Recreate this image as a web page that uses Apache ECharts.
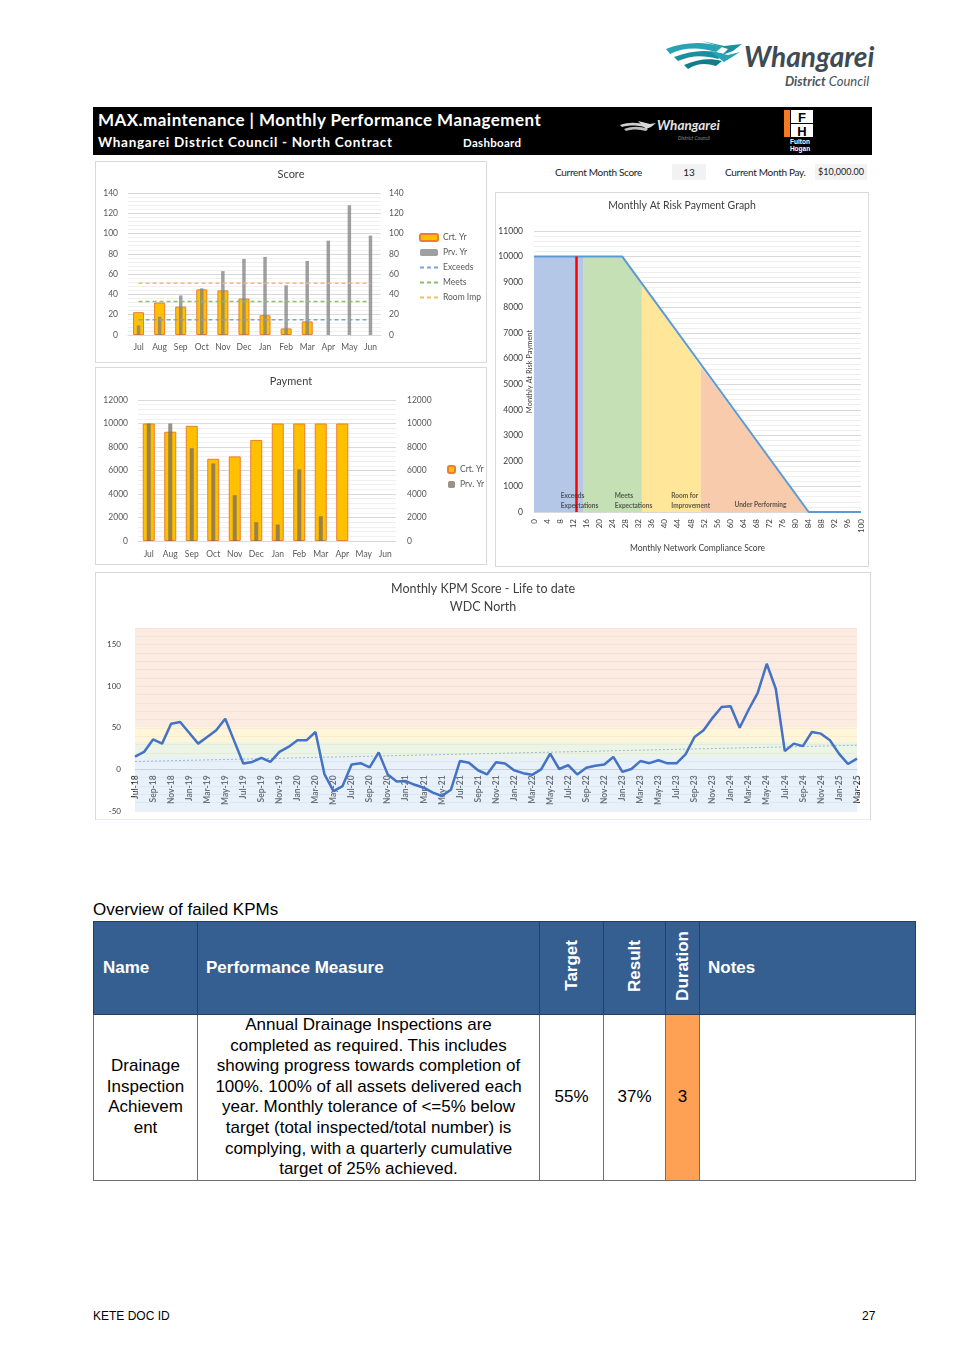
<!DOCTYPE html>
<html>
<head>
<meta charset="utf-8">
<script src="https://cdn.jsdelivr.net/npm/echarts@6/dist/echarts.min.js"></script>
<style>
  html,body{margin:0;padding:0;background:#fff;}
  body{width:967px;height:1369px;position:relative;overflow:hidden;font-family:"Liberation Sans",Arial,sans-serif;}
  .abs{position:absolute;}
  .panel{position:absolute;box-sizing:border-box;border:1px solid #d9d9d9;background:#fff;}
  .hdr{position:absolute;left:93px;top:107px;width:779px;height:48px;background:#000;}
  .hdr .t1{position:absolute;left:5px;top:2px;color:#fff;font:bold 17px Lato,"Liberation Sans",sans-serif;letter-spacing:0.45px;}
  .hdr .t2{position:absolute;left:5px;top:27px;color:#fff;font:bold 13.5px Lato,"Liberation Sans",sans-serif;letter-spacing:0.7px;}
  .hdr .t3{position:absolute;left:370px;top:29px;color:#fff;font:bold 11.5px Lato,"Liberation Sans",sans-serif;letter-spacing:0.3px;}
  .cm{position:absolute;font:10px Lato,"Liberation Sans",sans-serif;color:#222;letter-spacing:-0.3px;}
  .cmbox{position:absolute;background:#f2f2f2;font:9px Lato,"Liberation Sans",sans-serif;color:#222;text-align:center;}
  table.kpi{position:absolute;left:93px;top:921px;width:822px;border-collapse:collapse;table-layout:fixed;font-family:"Liberation Sans",Arial,sans-serif;}
  table.kpi td{border:1.5px solid #6f6f6f;padding:0;}
  table.kpi tr.h td{background:#365F91;color:#fff;font-weight:bold;font-size:17px;height:92px;vertical-align:middle;border-color:#2b3f5c;}
  table.kpi tr.b td{font-size:17px;line-height:20.6px;height:164px;text-align:center;vertical-align:middle;color:#000;}
  .rot{writing-mode:vertical-rl;transform:rotate(180deg);display:inline-block;}
</style>
</head>
<body>
<script>
// ---------------- DATA ----------------
const months = ['Jul','Aug','Sep','Oct','Nov','Dec','Jan','Feb','Mar','Apr','May','Jun'];
const scoreCrt = [22.5, 32, 28, 45, 44, 36, 19.5, 6.5, 13.4, null, null, null];
const scorePrv = [9.5, 18, 39, 46, 63, 75, 77, 49, 73, 93, 128, 98];
const scoreExceeds = [15,15,15,15,15,15,15,15,15,15,15,15];
const scoreMeets = [33,33,33,33,33,33,33,33,33,33,33,33];
const scoreRoomImp = [51,51,51,51,51,51,51,51,51,51,51,51];
const payCrt = [10000, 9300, 9800, 7000, 7200, 8600, 10000, 10000, 10000, 10000, null, null];
const payPrv = [10000, 10000, 7900, 6600, 3900, 1600, 1400, 6100, 2100, null, null, null];

// At-risk payment graph: [score, payment]
const riskLine = [[0,10000],[27,10000],[84,0],[100,0]];
const riskBlue = [[0,10000],[15,10000]];
const riskGreen = [[15,10000],[27,10000],[33,8900]];
const riskYellow = [[33,8900],[51,5700]];
const riskSalmon = [[51,5700],[84,0]];
const currentScoreLine = [[13,0],[13,10000]];
const riskLabels = [
  {name:'Exceeds\nExpectations', value:[8.2,440]},
  {name:'Meets\nExpectations', value:[24.7,440]},
  {name:'Room for\nImprovement', value:[42,440]},
  {name:'Under Performing', value:[61.3,283]}
];

const kpmMonths = ['Jul-18','Aug-18','Sep-18','Oct-18','Nov-18','Dec-18',
 'Jan-19','Feb-19','Mar-19','Apr-19','May-19','Jun-19','Jul-19','Aug-19','Sep-19','Oct-19','Nov-19','Dec-19',
 'Jan-20','Feb-20','Mar-20','Apr-20','May-20','Jun-20','Jul-20','Aug-20','Sep-20','Oct-20','Nov-20','Dec-20',
 'Jan-21','Feb-21','Mar-21','Apr-21','May-21','Jun-21','Jul-21','Aug-21','Sep-21','Oct-21','Nov-21','Dec-21',
 'Jan-22','Feb-22','Mar-22','Apr-22','May-22','Jun-22','Jul-22','Aug-22','Sep-22','Oct-22','Nov-22','Dec-22',
 'Jan-23','Feb-23','Mar-23','Apr-23','May-23','Jun-23','Jul-23','Aug-23','Sep-23','Oct-23','Nov-23','Dec-23',
 'Jan-24','Feb-24','Mar-24','Apr-24','May-24','Jun-24','Jul-24','Aug-24','Sep-24','Oct-24','Nov-24','Dec-24',
 'Jan-25','Feb-25','Mar-25'];
const kpmScore = [15.5,21,36,31,55,57,
 44,31,39,47,61,34,7,9,14,9,21,27,
 35,35,45,-6,-26,-20,6,7.5,2.5,20.5,-6,-14.5,
 -14,-18.5,-22,-28,-32,-24.5,10,8,-1,-6,8.5,7,
 -1,-4.5,-6.5,0,19,0.5,5,-6,2,4.5,6,15,
 -3,0.5,10,7.5,11,7.3,7.3,18,39,47,62,75,
 76,50,72,92,127,97,22,31,28,45,43,35,
 19,6.5,13];
const kpmTrendStart = 9.5;
const kpmTrendEnd = 29;
const kpmBands = [[-50,15],[15,33],[33,51],[51,170]];
const kpmYTicks = [-50,0,50,100,150];
</script>

<!-- top logo -->
<svg class="abs" style="left:662px;top:36px" width="225" height="58" viewBox="0 0 225 58">
  <path d="M4,13 C22,6 42,5 60,11 L54,16 C38,11 22,11 8,18 Z" fill="#27a3b2"/>
  <path d="M12,21 C30,14 46,13 62,18 L56,23 C42,19 29,19 16,25 Z" fill="#1b8f9e"/>
  <path d="M22,29 C36,23 48,22 60,25 L54,30 C44,27 35,27 26,33 Z" fill="#127c8a"/>
  <path d="M40,5 L62,10 L80,8 L71,15 L60,19 L66,13 Z" fill="#1b8f9e"/>
  <path d="M48,15 L66,19 L78,16 L62,26 Z" fill="#27a3b2"/>
  <text x="82" y="31" font-family="Lato,'Liberation Sans',sans-serif" font-weight="bold" font-style="italic" font-size="28" fill="#3e4a54">Whangarei</text>
  <text x="123" y="50" font-family="Lato,'Liberation Sans',sans-serif" font-style="italic" font-size="13" fill="#4a545c"><tspan font-weight="bold">District</tspan> Council</text>
</svg>

<!-- header bar -->
<div class="hdr">
  <div class="t1">MAX.maintenance | Monthly Performance Management</div>
  <div class="t2">Whangarei District Council - North Contract</div>
  <div class="t3">Dashboard</div>
  <svg class="abs" style="left:525px;top:8px" width="120" height="30" viewBox="0 0 120 30">
    <path d="M2,10 C10,7 20,7 28,10 L26,12 C19,10 11,10 4,12 Z" fill="#cfcfcf"/>
    <path d="M6,14 C14,11 22,11 30,14 L28,16 C21,14 14,14 8,16 Z" fill="#bdbdbd"/>
    <path d="M20,6 L32,9 L38,8 L33,12 L28,14 Z" fill="#d8d8d8"/>
    <text x="39" y="15" font-family="Lato,'Liberation Sans',sans-serif" font-weight="bold" font-style="italic" font-size="13.5" fill="#e6e6e6">Whangarei</text>
    <text x="60" y="25" font-family="Lato,'Liberation Sans',sans-serif" font-style="italic" font-size="5" fill="#8a8a8a">District Council</text>
  </svg>
  <svg class="abs" style="left:689px;top:2px" width="36" height="44" viewBox="0 0 36 44">
    <rect x="2" y="1" width="6" height="27" fill="#f47b20"/>
    <rect x="9" y="1" width="22" height="13" fill="#fff"/>
    <rect x="9" y="15" width="22" height="13" fill="#fff"/>
    <text x="20" y="12.5" text-anchor="middle" font-family="'Liberation Sans',sans-serif" font-weight="bold" font-size="13" fill="#000">F</text>
    <text x="20" y="26.5" text-anchor="middle" font-family="'Liberation Sans',sans-serif" font-weight="bold" font-size="13" fill="#000">H</text>
    <text x="18" y="35" text-anchor="middle" font-family="'Liberation Sans',sans-serif" font-weight="bold" font-size="6.5" fill="#fff">Fulton</text>
    <text x="18" y="42" text-anchor="middle" font-family="'Liberation Sans',sans-serif" font-weight="bold" font-size="6.5" fill="#fff">Hogan</text>
  </svg>
</div>

<!-- panels -->
<div id="score" class="panel" style="left:95px;top:161px;width:392px;height:202px;"></div>
<div id="pay" class="panel" style="left:95px;top:367px;width:392px;height:198px;"></div>

<div class="cm" style="left:555px;top:166px;">Current Month Score</div>
<div class="cmbox" style="left:672px;top:164px;width:34px;height:16px;line-height:16px;font-size:10px;">13</div>
<div class="cm" style="left:725px;top:166px;">Current Month Pay.</div>
<div class="cmbox" style="left:815px;top:164px;width:52px;height:16px;line-height:16px;">$10,000.00</div>
<div id="risk" class="panel" style="left:495px;top:192px;width:374px;height:375px;"></div>

<div id="kpm" class="panel" style="left:95px;top:572px;width:776px;height:248px;border-bottom-color:#f3edc9;"></div>

<!-- table -->
<div class="abs" style="left:93px;top:900px;font-size:17px;color:#000;">Overview of failed KPMs</div>
<table class="kpi">
  <colgroup><col style="width:104px"><col style="width:342px"><col style="width:64px"><col style="width:62px"><col style="width:34px"><col style="width:216px"></colgroup>
  <tr class="h">
    <td style="padding-left:9px;">Name</td>
    <td style="padding-left:8px;">Performance Measure</td>
    <td style="text-align:center;"><span class="rot">Target</span></td>
    <td style="text-align:center;"><span class="rot">Result</span></td>
    <td style="text-align:center;"><span class="rot">Duration</span></td>
    <td style="padding-left:8px;">Notes</td>
  </tr>
  <tr class="b">
    <td>Drainage<br>Inspection<br>Achievem<br>ent</td>
    <td>Annual Drainage Inspections are<br>completed as required. This includes<br>showing progress towards completion of<br>100%. 100% of all assets delivered each<br>year. Monthly tolerance of &lt;=5% below<br>target (total inspected/total number) is<br>complying, with a quarterly cumulative<br>target of 25% achieved.</td>
    <td>55%</td>
    <td>37%</td>
    <td style="background:#FFA155;">3</td>
    <td></td>
  </tr>
</table>

<div class="abs" style="left:93px;top:1309px;font-size:12px;color:#000;">KETE DOC ID</div>
<div class="abs" style="left:862px;top:1309px;font-size:12px;color:#000;">27</div>

<script>
const FONT = 'Lato';
const LBL = '#595959';
const plain = v => String(v);

// ---------- Score ----------
(function(){
  const c = echarts.init(document.getElementById('score'), null, {renderer:'canvas'});
  const yAx = (pos) => ({type:'value', position:pos, min:0, max:140, interval:20,
    axisLabel:{fontSize:8.5, color:LBL, fontFamily:FONT, margin:pos==='left'?10:8, formatter:plain},
    axisLine:{show:false}, axisTick:{show:false},
    splitLine:{show:pos==='left', lineStyle:{color:'#d9d9d9', width:1}},
    minorTick:{show:false}, minorSplitLine:{show:pos==='left', lineStyle:{color:'#f0f0f0'}}, splitNumber:7});
  const lineItem = (name) => ({name, itemStyle:{opacity:0, color:'rgba(0,0,0,0)', borderWidth:0}});
  c.setOption({
    animation:false,
    title:{text:'Score', left:'center', top:2, textStyle:{fontSize:11, fontWeight:'normal', color:'#404040', fontFamily:FONT}},
    grid:{left:32, right:105, top:31, bottom:27, outerBoundsMode:'none', containLabel:false},
    legend:{orient:'vertical', left:318, top:66, itemWidth:18, itemHeight:7, itemGap:6,
      textStyle:{fontSize:8.5, color:LBL, fontFamily:FONT},
      data:['Crt. Yr','Prv. Yr',lineItem('Exceeds'),lineItem('Meets'),lineItem('Room Imp')]},
    xAxis:[
      {type:'category', data:months, axisTick:{show:false}, axisLine:{lineStyle:{color:'#d9d9d9'}},
       axisLabel:{fontSize:8.5, color:LBL, fontFamily:FONT, margin:8, interval:0}},
      {type:'category', data:months, show:false}
    ],
    yAxis:[yAx('left'), yAx('right')],
    series:[
      {name:'Crt. Yr', type:'bar', data:scoreCrt, barWidth:11, xAxisIndex:0, yAxisIndex:0,
       itemStyle:{color:'#FFC000', borderColor:'#ED7D31', borderWidth:1}},
      {name:'Prv. Yr', type:'bar', data:scorePrv, barWidth:3.5, xAxisIndex:1, yAxisIndex:1,
       itemStyle:{color:'rgba(128,128,128,0.75)'}},
      {name:'Exceeds', type:'line', data:scoreExceeds, symbol:'none', xAxisIndex:0, yAxisIndex:0,
       lineStyle:{color:'#7ea3d9', width:1.5, type:[4,3]}, itemStyle:{color:'#7ea3d9'}},
      {name:'Meets', type:'line', data:scoreMeets, symbol:'none', xAxisIndex:0, yAxisIndex:0,
       lineStyle:{color:'#8cbf6c', width:1.5, type:[4,3]}, itemStyle:{color:'#8cbf6c'}},
      {name:'Room Imp', type:'line', data:scoreRoomImp, symbol:'none', xAxisIndex:0, yAxisIndex:0,
       lineStyle:{color:'#f0c060', width:1.5, type:[4,3]}, itemStyle:{color:'#f0c060'}}
    ]
  });
})();

// ---------- Payment ----------
(function(){
  const c = echarts.init(document.getElementById('pay'), null, {renderer:'canvas'});
  const yAx = (pos) => ({type:'value', position:pos, min:0, max:12000, interval:2000,
    axisLabel:{fontSize:8.5, color:LBL, fontFamily:FONT, margin:pos==='left'?10:11, formatter:plain},
    axisLine:{show:false}, axisTick:{show:false},
    splitLine:{show:pos==='left', lineStyle:{color:'#d9d9d9'}},
    minorTick:{show:false}, minorSplitLine:{show:pos==='left', lineStyle:{color:'#f0f0f0'}}, splitNumber:6});
  c.setOption({
    animation:false,
    title:{text:'Payment', left:'center', top:3, textStyle:{fontSize:11, fontWeight:'normal', color:'#404040', fontFamily:FONT}},
    grid:{left:42, right:90, top:32, bottom:23, outerBoundsMode:'none', containLabel:false},
    legend:{orient:'vertical', left:346, top:92, itemWidth:7, itemHeight:7, itemGap:6,
      textStyle:{fontSize:8.5, color:LBL, fontFamily:FONT}, data:['Crt. Yr','Prv. Yr']},
    xAxis:[
      {type:'category', data:months, axisTick:{show:false}, axisLine:{lineStyle:{color:'#d9d9d9'}},
       axisLabel:{fontSize:8.5, color:LBL, fontFamily:FONT, margin:9, interval:0}},
      {type:'category', data:months, show:false}
    ],
    yAxis:[yAx('left'), yAx('right')],
    series:[
      {name:'Crt. Yr', type:'bar', data:payCrt, barWidth:12, xAxisIndex:0, yAxisIndex:0,
       itemStyle:{color:'#FFC000', borderColor:'#ED7D31', borderWidth:1}},
      {name:'Prv. Yr', type:'bar', data:payPrv, barWidth:4, xAxisIndex:1, yAxisIndex:1,
       itemStyle:{color:'rgba(118,110,95,0.75)'}}
    ]
  });
})();

// ---------- At Risk ----------
(function(){
  const c = echarts.init(document.getElementById('risk'), null, {renderer:'canvas'});
  const area = (name, data, color) => ({name, type:'line', data, symbol:'none', silent:true,
    lineStyle:{width:0}, areaStyle:{color, opacity:1}, z:1});
  c.setOption({
    animation:false,
    title:{text:'Monthly At Risk Payment Graph', left:'center', top:2,
      textStyle:{fontSize:10.5, fontWeight:'normal', color:'#404040', fontFamily:FONT}},
    grid:{left:38, right:7, top:38, bottom:54, outerBoundsMode:'none', containLabel:false},
    xAxis:{type:'value', min:0, max:100, interval:4,
      name:'Monthly Network Compliance Score', nameLocation:'middle', nameGap:32,
      nameTextStyle:{fontSize:8.5, color:'#404040', fontFamily:FONT},
      axisLabel:{rotate:90, fontSize:8, color:'#404040', fontFamily:FONT, margin:7},
      axisLine:{lineStyle:{color:'#d9d9d9'}}, axisTick:{show:false}, splitLine:{show:false}},
    yAxis:{type:'value', min:0, max:11000, interval:1000,
      name:'Monthly At Risk Payment', nameLocation:'middle', nameGap:0, nameMoveOverlap:false,
      nameTextStyle:{fontSize:7.5, color:'#404040', fontFamily:FONT},
      axisLabel:{fontSize:8.5, color:'#404040', fontFamily:FONT, margin:11, formatter:plain},
      axisLine:{show:false}, axisTick:{show:false},
      splitLine:{lineStyle:{color:'#d9d9d9'}},
      minorTick:{show:false}, minorSplitLine:{show:true, lineStyle:{color:'#eeeeee'}}, splitNumber:11},
    series:[
      area('Exceeds', riskBlue, '#B4C7E7'),
      area('Meets', riskGreen, '#C5E0B4'),
      area('Room', riskYellow, '#FFE699'),
      area('Under', riskSalmon, '#F8CBAD'),
      {name:'Payment', type:'line', data:riskLine, symbol:'none', z:3,
       lineStyle:{color:'#5B9BD5', width:2}},
      {name:'Current', type:'line', data:currentScoreLine, symbol:'none', z:4,
       lineStyle:{color:'#FF0000', width:2.5}},
      {name:'Labels', type:'scatter', data:riskLabels, symbolSize:0, z:5, silent:true,
       label:{show:true, position:'right', distance:0, formatter:p=>p.name,
         fontSize:6.5, fontWeight:'bold', color:'#333', fontFamily:FONT, lineHeight:10, align:'left'}}
    ]
  });
})();

// ---------- KPM ----------
(function(){
  const c = echarts.init(document.getElementById('kpm'), null, {renderer:'canvas'});
  const last = kpmMonths.length - 1;
  const trend = kpmMonths.map((m,i)=> i===0 ? kpmTrendStart : (i===last ? kpmTrendEnd : null));
  const bandColors = ['rgba(189,215,238,0.35)','rgba(197,224,180,0.35)','rgba(255,230,153,0.38)','rgba(248,203,173,0.38)'];
  c.setOption({
    animation:false,
    title:{text:'Monthly KPM Score - Life to date\nWDC North', left:'center', top:2,
      textStyle:{fontSize:12.5, fontWeight:'normal', color:'#404040', fontFamily:FONT, lineHeight:18}},
    grid:{left:39, right:13, top:55, bottom:8, outerBoundsMode:'none', containLabel:false},
    xAxis:{type:'category', data:kpmMonths, boundaryGap:false,
      axisLine:{onZero:false, lineStyle:{color:'#d0d0d0'}}, axisTick:{show:false},
      axisLabel:{interval:1, rotate:90, fontSize:8.5, color:'#404040', fontFamily:FONT, fontWeight:'bold', margin:6}},
    yAxis:{type:'value', min:-50, max:170, interval:10,
      axisLabel:{fontSize:8, color:'#404040', fontFamily:FONT, margin:14,
        formatter:v=> kpmYTicks.indexOf(v) >= 0 ? String(v) : ''},
      axisLine:{show:false}, axisTick:{show:false},
      splitLine:{lineStyle:{color:'rgba(0,0,0,0.06)'}}},
    series:[
      {name:'Trend', type:'line', data:trend, connectNulls:true, symbol:'none', z:2,
       lineStyle:{color:'#9ab7d6', width:1, type:[2,2]}},
      {name:'KPM', type:'line', data:kpmScore, symbol:'none', z:3,
       lineStyle:{color:'#4472C4', width:2.5},
       markArea:{silent:true, data: kpmBands.map((b,i)=>[{yAxis:b[0], itemStyle:{color:bandColors[i]}},{yAxis:b[1]}])}}
    ]
  });
  // move the category axis (line + labels) up to the zero line, as in the reference
  const yZero = c.convertToPixel({yAxisIndex:0}, 0);
  const yBottom = c.convertToPixel({yAxisIndex:0}, -50);
  c.setOption({xAxis:{offset: -(yBottom - yZero)}});
})();
</script>
</body>
</html>
